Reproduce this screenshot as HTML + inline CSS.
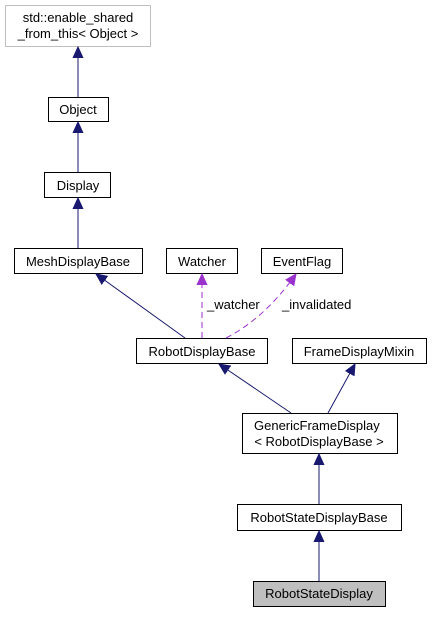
<!DOCTYPE html>
<html><head><style>
body{margin:0;background:#fff;width:432px;height:612px;overflow:hidden}
svg{font-family:"Liberation Sans",Helvetica,sans-serif;font-size:13px}
</style></head><body>
<svg width="432" height="612" viewBox="0 0 432 612">
<defs>
<marker id="b" markerWidth="12" markerHeight="12" refX="11" refY="5.5" orient="auto" markerUnits="userSpaceOnUse"><path d="M0,0.5 L11,5.5 L0,10.5 z" fill="#191970" stroke="#191970"/></marker>
<marker id="p" markerWidth="12" markerHeight="12" refX="11" refY="5.5" orient="auto" markerUnits="userSpaceOnUse"><path d="M0,0.5 L11,5.5 L0,10.5 z" fill="#9a32cd" stroke="#9a32cd"/></marker>
</defs>
<g fill="#fff" stroke="#000" stroke-width="1">
<rect x="5.5" y="5.5" width="145" height="41" stroke="#bfbfbf"/>
<rect x="48.5" y="97.5" width="60" height="24"/>
<rect x="44.5" y="172.5" width="66" height="25"/>
<rect x="14.5" y="248.5" width="128" height="25"/>
<rect x="166.5" y="248.5" width="71" height="25"/>
<rect x="261.5" y="248.5" width="81" height="25"/>
<rect x="136.5" y="338.5" width="131" height="25"/>
<rect x="292.5" y="338.5" width="134" height="25"/>
<rect x="242.5" y="413.5" width="155" height="40"/>
<rect x="237.5" y="504.5" width="164" height="26"/>
<rect x="253.5" y="581.5" width="132" height="25" fill="#bfbfbf"/>
</g>
<g stroke="#191970" fill="none" stroke-width="1">
<line x1="78" y1="97" x2="78" y2="47" marker-end="url(#b)"/>
<line x1="78" y1="172" x2="78" y2="122" marker-end="url(#b)"/>
<line x1="78" y1="248" x2="78" y2="198" marker-end="url(#b)"/>
<line x1="185" y1="338" x2="96" y2="274" marker-end="url(#b)"/>
<line x1="291" y1="413" x2="219" y2="364" marker-end="url(#b)"/>
<line x1="328" y1="413" x2="355" y2="364" marker-end="url(#b)"/>
<line x1="319" y1="504" x2="319" y2="454" marker-end="url(#b)"/>
<line x1="319" y1="581" x2="319" y2="531" marker-end="url(#b)"/>
</g>
<g stroke="#9a32cd" fill="none" stroke-width="1" stroke-dasharray="6,4">
<line x1="202" y1="338" x2="202" y2="274" marker-end="url(#p)"/>
<path d="M226,338 Q265,318 296,274" marker-end="url(#p)"/>
</g>
<g fill="#000" text-anchor="middle">
<text x="78" y="22">std::enable_shared</text>
<text x="78" y="38">_from_this&lt; Object &gt;</text>
<text x="78" y="114">Object</text>
<text x="78" y="190">Display</text>
<text x="78" y="266">MeshDisplayBase</text>
<text x="202" y="266">Watcher</text>
<text x="302" y="266">EventFlag</text>
<text x="202" y="356">RobotDisplayBase</text>
<text x="359" y="356">FrameDisplayMixin</text>
<text x="254" y="430" text-anchor="start">GenericFrameDisplay</text>
<text x="319" y="446">&lt; RobotDisplayBase &gt;</text>
<text x="319" y="522">RobotStateDisplayBase</text>
<text x="319" y="598">RobotStateDisplay</text>
<text x="207" y="309" text-anchor="start">_watcher</text>
<text x="282" y="309" text-anchor="start">_invalidated</text>
</g>
</svg>
</body></html>
